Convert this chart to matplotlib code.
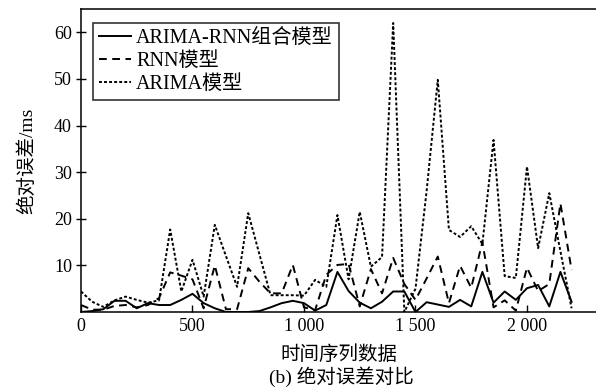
import matplotlib
matplotlib.use("Agg")
import matplotlib.pyplot as plt

plt.rcParams["font.family"] = ["Liberation Serif", "Noto Sans CJK SC"]
plt.rcParams["axes.unicode_minus"] = False

# sample positions (time series index)
x = [0, 50, 100, 150, 200, 250, 300, 350, 400, 450,
     500, 550, 600, 650, 700, 750, 800, 850, 900, 950,
     1000, 1050, 1100, 1150, 1200, 1250, 1300, 1350, 1400, 1450,
     1500, 1550, 1600, 1650, 1700, 1750, 1800, 1850, 1900, 1950,
     2000, 2050, 2100, 2150, 2200]

err_combined = [0.0, 0.2, 0.6, 2.4, 2.4, 0.8, 1.9, 1.5, 1.5, 2.6,
                3.9, 1.9, 0.8, 0.0, 0.0, 0.0, 0.2, 1.0, 1.9, 2.4,
                1.9, 0.3, 1.5, 8.6, 4.5, 2.0, 0.8, 2.2, 4.4, 4.4,
                0.0, 2.1, 1.6, 1.1, 2.6, 1.2, 8.6, 2.0, 4.4, 2.6,
                5.1, 5.8, 1.2, 8.6, 2.2]

err_rnn = [1.5, 0.5, 0.5, 1.3, 1.5, 1.0, 1.5, 3.0, 8.5, 7.8,
           7.0, 0.8, 10.0, 0.6, 0.6, 9.4, 6.5, 4.0, 4.0, 10.1,
           1.0, 0.4, 8.0, 10.1, 10.3, 1.2, 9.2, 4.0, 11.6, 6.0,
           2.6, 7.2, 11.9, 1.9, 9.9, 5.2, 15.0, 1.0, 2.5, 0.3,
           9.5, 4.5, 6.0, 23.3, 9.0]

err_arima = [4.4, 2.2, 1.1, 2.5, 3.3, 2.6, 2.0, 2.5, 17.7, 4.4,
             11.2, 3.3, 18.7, 12.0, 5.4, 21.2, 12.4, 3.6, 3.6, 3.6,
             3.5, 6.9, 5.4, 20.8, 7.0, 21.5, 9.7, 11.8, 62.0, 0.0,
             5.0, 26.0, 49.8, 17.6, 16.1, 18.4, 14.6, 36.9, 7.7, 7.3,
             31.2, 13.7, 25.5, 13.0, 0.8]

xticks = [0, 500, 1000, 1500, 2000]
xticklabels = ["0", "500", "1 000", "1 500", "2 000"]
yticks = [10, 20, 30, 40, 50, 60]

fig = plt.figure(figsize=(5.96, 3.91), dpi=100)
ax = fig.add_axes([81 / 596, 1 - 312 / 391, 516 / 596, 303 / 391])

ax.plot(x, err_combined, color="black", lw=1.4, label="ARIMA-RNN组合模型")
ax.plot(x, err_rnn, color="black", lw=1.4, linestyle=(0, (4, 2.8)), label="RNN模型")
ax.plot(x, err_arima, color="black", lw=1.4, linestyle=(0, (1.5, 1.1)), label="ARIMA模型")

ax.set_xlim(0, 2314)
ax.set_ylim(0, 65)
ax.set_xticks(xticks)
ax.set_xticklabels(xticklabels)
ax.set_yticks(yticks)
ax.tick_params(axis="x", direction="in", length=5, width=1, labelsize=13, pad=4)
ax.tick_params(axis="y", direction="inout", length=7, width=1, labelsize=13, pad=3)
for side in ("left", "bottom", "top"):
    ax.spines[side].set_linewidth(1.1)
ax.spines["right"].set_visible(False)

ax.set_xlabel("时间序列数据", fontsize=14, labelpad=7.5)
ax.set_ylabel("绝对误差/ms", fontsize=14, labelpad=13)

leg = ax.legend(loc="upper left", bbox_to_anchor=(0.023, 0.954), fontsize=14.5,
                frameon=True, fancybox=False, handlelength=1.6,
                handletextpad=0.25, borderpad=0.3, labelspacing=0.2,
                borderaxespad=0.0)
leg.get_frame().set_edgecolor("black")
leg.get_frame().set_linewidth(1.2)

fig.text(341 / 596, 1 - 377 / 391, "(b) 绝对误差对比", fontsize=14,
         ha="center", va="center")

fig.savefig("out.png", dpi=100)
